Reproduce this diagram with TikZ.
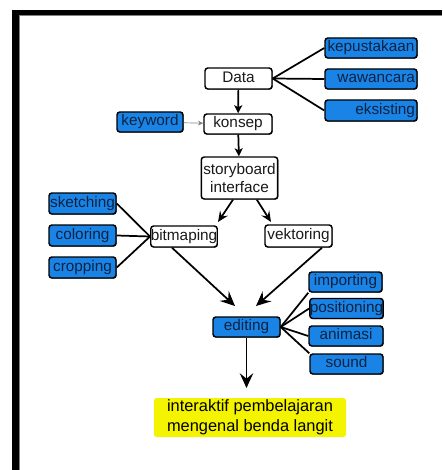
\documentclass[tikz,border=0pt]{standalone}
\usepackage{fontspec}
\setmainfont{Liberation Sans}
\usetikzlibrary{arrows.meta,shadows}
\definecolor{boxblue}{HTML}{1A84E6}
\definecolor{navytext}{HTML}{0D2240}
\definecolor{hiyellow}{HTML}{F4F400}
\begin{document}
\begin{tikzpicture}[x=0.75pt,y=-0.75pt]
\tikzset{
  box/.style={draw=black, line width=1.1pt, rounded corners=2.2pt,
    inner xsep=1.5pt, inner ysep=0pt, minimum height=15pt,
    text height=8.2pt, text depth=2.4pt,
    font=\fontsize{11.5}{13}\selectfont,
    drop shadow={shadow xshift=0.5pt,shadow yshift=-0.5pt,opacity=0.7,fill=black}},
  wbox/.style={box, fill=white, text=black!90},
  bbox/.style={box, fill=boxblue, text=navytext},
  link/.style={line width=1.3pt, black},
  bigarrow/.style={link, -{Stealth[length=11pt,width=10pt,inset=4pt]}},
  midarrow/.style={link, -{Stealth[length=8pt,width=7pt,inset=3pt]}},
  smallarrow/.style={link, -{Stealth[length=6pt,width=6pt,inset=1.5pt]}}
}
\useasboundingbox (0,0) rectangle (442,470);
\fill[white] (0,0) rectangle (442,470);
% frame
\fill[black] (12,10) rectangle (19,470);
\fill[black] (12,10) rectangle (442,15);
\draw[gray, line width=0.6pt] (19.4,470) -- (19.4,15.4) -- (442,15.4);

% nodes
\node[wbox, minimum width=50.25pt, minimum height=15.75pt] (data) at (238.5,78.5) {Data};
\node[bbox, minimum width=69pt, inner xsep=0pt] (kep) at (371,48) {kepustakaan};
\node[bbox, text width=66pt, align=right] (waw) at (371,79) {wawancara};
\node[bbox, text width=66pt, align=right, minimum height=15.75pt] (eks) at (371,110.5) {eksisting};
\node[bbox, minimum width=49.5pt] (keyword) at (150,122) {keyword};
\node[wbox, minimum width=51pt] (konsep) at (238,124) {konsep};
\node[wbox, minimum width=56.25pt, minimum height=31.5pt, align=center,
      text height=, text depth=] (story) at (239.5,178) {storyboard\\interface};
\node[bbox, minimum width=50.25pt, minimum height=15.75pt, inner xsep=0pt] (sketch) at (82.5,203.5) {sketching};
\node[bbox, minimum width=50.25pt, minimum height=15.75pt] (color) at (82.5,235.5) {coloring};
\node[bbox, minimum width=50.25pt, minimum height=15.75pt, inner xsep=0pt] (crop) at (82.5,267.5) {cropping};
\node[wbox, minimum width=49.5pt, minimum height=15.75pt, inner xsep=0pt] (bitmap) at (184,236.5) {bitmaping};
\node[wbox, minimum width=50.25pt, minimum height=16.5pt, inner xsep=0pt] (vektor) at (298.5,236) {vektoring};
\node[bbox, minimum width=54.75pt] (import) at (345.5,282) {importing};
\node[bbox, minimum width=54.75pt, inner xsep=0pt] (posit) at (346.5,308.5) {positioning};
\node[bbox, minimum width=50.25pt] (edit) at (246.5,327) {editing};
\node[bbox, minimum width=55.5pt] (anim) at (346,336) {animasi};
\node[bbox, minimum width=54.75pt] (sound) at (346.5,364) {sound};
\node[fill=hiyellow, rounded corners=2pt, minimum width=144pt, minimum height=29.25pt,
      inner sep=0pt, align=center, font=\fontsize{12.3}{15}\selectfont, text=black]
      (goal) at (250,417.5) {interaktif pembelajaran\\mengenal benda langit};

% free ends
\coordinate (sbL) at (218,222);
\coordinate (sbR) at (271,222);
\coordinate (edL) at (235,306);
\coordinate (edR) at (256,306);
\coordinate (goalTop) at (246.5,388);

% connectors
\draw[smallarrow] (data) -- (konsep);
\draw[gray, line width=0.5pt, -{Stealth[length=4pt,width=3.5pt]}] (keyword) -- (konsep);
\draw[smallarrow] (konsep) -- (story);
\draw[midarrow] ([xshift=-4.9pt]story.south) -- (sbL);
\draw[midarrow] ([xshift=13pt]story.south) -- (sbR);
\draw[bigarrow] ([xshift=-9pt]bitmap.south) -- (edL);
\draw[bigarrow] ([xshift=17.6pt]vektor.south) -- (edR);
\draw[bigarrow] (edit) -- (goalTop);

\draw[link] (data.east) -- (kep.west);
\draw[link] (data.east) -- (waw.west);
\draw[link] (data.east) -- (eks.west);

\draw[link] (bitmap.west) -- (sketch.east);
\draw[link] (bitmap.west) -- (color.east);
\draw[link] (bitmap.west) -- (crop.east);

\draw[link] (edit.east) -- (import.south west);
\draw[link] (edit.east) -- (posit.west);
\draw[link] (edit.east) -- (anim.west);
\draw[link] (edit.east) -- (sound.north west);
\end{tikzpicture}
\end{document}
